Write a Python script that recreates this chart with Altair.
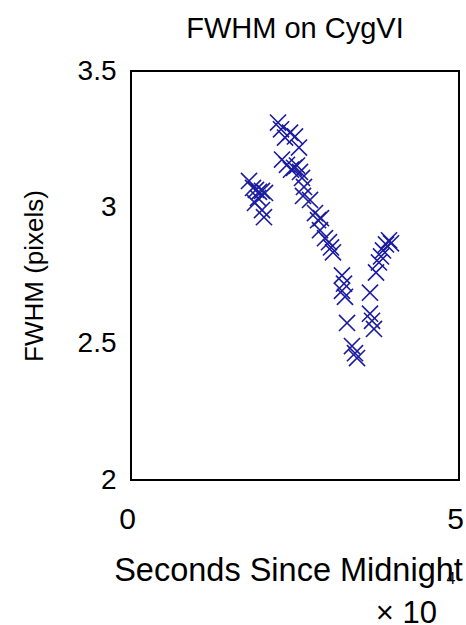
import altair as alt
import pandas as pd

# Seconds since midnight and FWHM (pixels)
seconds = [17990, 18600, 19050, 19510, 19970, 20430, 19360, 18900, 19970, 20270,
           22410, 22870, 23480, 24240, 25000, 25610, 23020, 23780, 24390, 24850,
           25300, 25760, 26070, 26370, 26220, 27290, 28050, 28510, 28960, 28810,
           29570, 30180, 30490, 30790,
           32160, 32470, 32160, 32620, 32930, 33690, 34150, 34450,
           36430, 36430, 36740, 37040, 37350, 37800, 38110, 38410, 38870, 39330, 39630]
fwhm = [3.097, 3.071, 3.064, 3.057, 3.060, 3.053, 3.034, 3.016, 2.990, 2.964,
        3.311, 3.286, 3.256, 3.274, 3.260, 3.219, 3.175, 3.156, 3.138, 3.145,
        3.153, 3.130, 3.108, 3.075, 3.042, 3.027, 2.979, 2.953, 2.960, 2.916,
        2.887, 2.872, 2.853, 2.835,
        2.750, 2.720, 2.694, 2.672, 2.576, 2.491, 2.465, 2.447,
        2.687, 2.610, 2.584, 2.554, 2.761, 2.798, 2.820, 2.842, 2.864, 2.879, 2.868]

x_ticks = [0, 50000]
y_ticks = [2, 2.5, 3, 3.5]

df = pd.DataFrame({"sec": seconds, "fwhm": fwhm})

FONT = "Liberation Sans"
X_SHAPE = "M-1,-1L1,1M-1,1L1,-1"

points = alt.Chart(df).mark_point(
    shape=X_SHAPE, filled=False, stroke="#1c1ca0", strokeWidth=1.6, size=260, opacity=1
).encode(
    x=alt.X("sec:Q", scale=alt.Scale(domain=[0, 50000], nice=False, zero=False),
            axis=alt.Axis(values=x_ticks, labelExpr="datum.value / 10000",
                          title="Seconds Since Midnight", labelFontSize=30,
                          labelPadding=24, labelFlush=False, labelOffset=-4,
                          titleFontSize=32.5, titlePadding=20, titleX=157,
                          ticks=False, domain=False, grid=False, labelColor="black",
                          titleColor="black", labelFont=FONT, titleFont=FONT,
                          titleFontWeight="normal")),
    y=alt.Y("fwhm:Q", scale=alt.Scale(domain=[2, 3.5], nice=False, zero=False),
            axis=alt.Axis(values=y_ticks, labelExpr="datum.value + ''",
                          title="FWHM (pixels)", labelFontSize=28, labelPadding=15,
                          titleFontSize=26, titlePadding=30, ticks=False,
                          domain=False, grid=False, labelColor="black",
                          titleColor="black", labelFont=FONT, titleFont=FONT,
                          titleFontWeight="normal")),
)

note = pd.DataFrame({"t": ["\u00d7 10"]})
exp = pd.DataFrame({"t": ["4"]})

times10 = alt.Chart(note).mark_text(
    align="right", baseline="middle", fontSize=31, font=FONT, color="black"
).encode(text="t:N", x=alt.value(306), y=alt.value(543))

sup = alt.Chart(exp).mark_text(
    align="center", baseline="middle", fontSize=16, font=FONT, color="black"
).encode(text="t:N", x=alt.value(320), y=alt.value(508))

chart = alt.layer(points, times10, sup).properties(
    width=328, height=409,
    title=alt.TitleParams("FWHM on CygVI", fontSize=29, font=FONT,
                          fontWeight="normal", color="black", offset=13),
    autosize=alt.AutoSizeParams(type="none"),
    padding={"left": 131, "top": 71, "right": 7, "bottom": 145},
    background="white",
).configure_view(stroke="black", strokeWidth=2)

chart.save("out.html", embed_options={"renderer": "svg", "actions": False})
